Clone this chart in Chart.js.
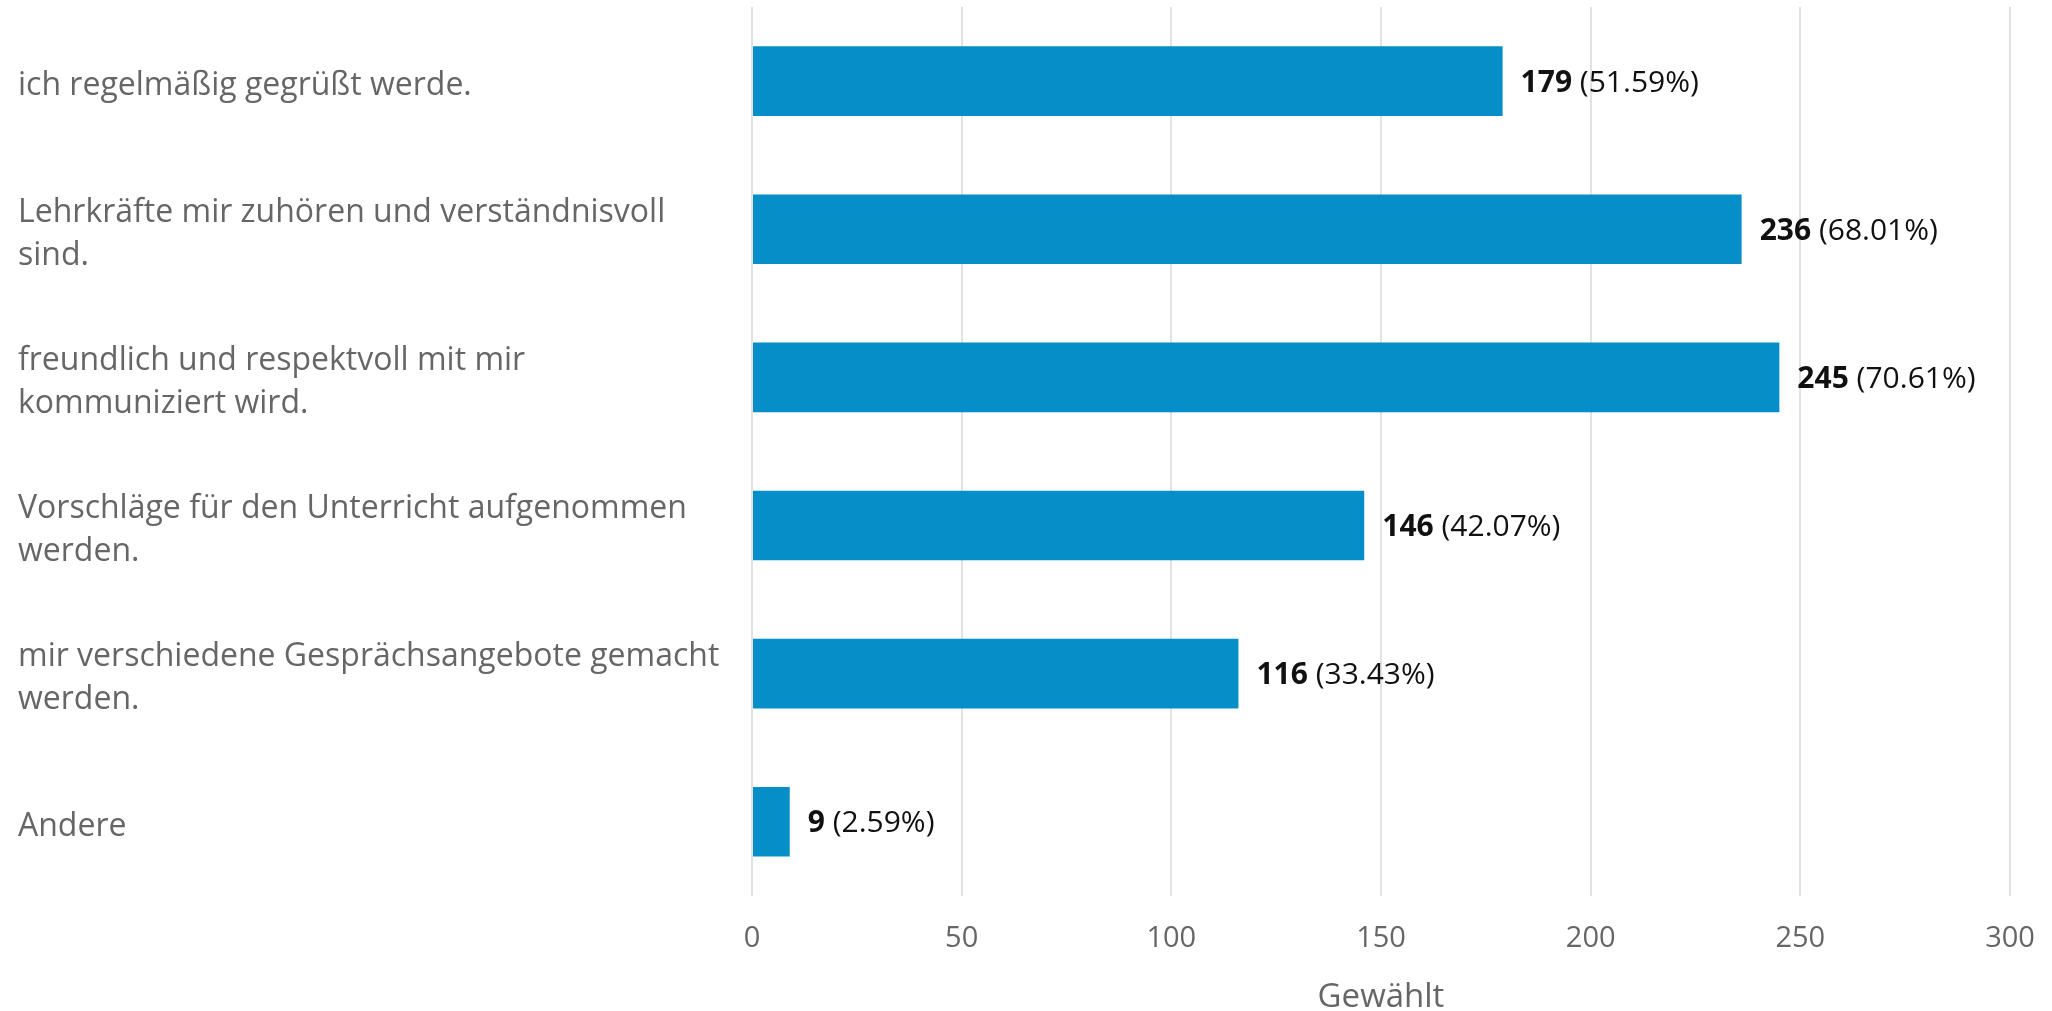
<!DOCTYPE html>
<html>
<head>
<meta charset="utf-8">
<script src="https://cdn.jsdelivr.net/npm/chart.js@4"></script>
<style>
  html, body { margin: 0; padding: 0; background: #ffffff; }
  #wrap { width: 2052px; height: 1011px; position: relative; }
</style>
</head>
<body>
<div id="wrap"><canvas id="chart"></canvas></div>
<script>
const categories = [
    'ich regelmäßig gegrüßt werde.',
    ['Lehrkräfte mir zuhören und verständnisvoll', 'sind.'],
    ['freundlich und respektvoll mit mir', 'kommuniziert wird.'],
    ['Vorschläge für den Unterricht aufgenommen', 'werden.'],
    ['mir verschiedene Gesprächsangebote gemacht', 'werden.'],
    'Andere'
];
const counts = [179, 236, 245, 146, 116, 9];
const percents = ['51.59%', '68.01%', '70.61%', '42.07%', '33.43%', '2.59%'];
const xTicks = [0, 50, 100, 150, 200, 250, 300];

const FONT = '"Open Sans", sans-serif';

// draws "179 (51.59%)" right of each bar
const valueLabels = {
    id: 'valueLabels',
    afterDatasetsDraw(chart) {
        const ctx = chart.ctx;
        const meta = chart.getDatasetMeta(0);
        ctx.save();
        ctx.textBaseline = 'middle';
        ctx.textAlign = 'left';
        ctx.fillStyle = '#111111';
        meta.data.forEach((bar, i) => {
            let x = bar.x + 18;
            const y = bar.y + 2;
            ctx.font = 'bold 30px ' + FONT;
            const num = String(counts[i]);
            ctx.fillText(num, x, y);
            x += ctx.measureText(num + ' ').width;
            ctx.font = '30px ' + FONT;
            ctx.fillText('(' + percents[i] + ')', x, y);
        });
        ctx.restore();
    }
};

new Chart(document.getElementById('chart'), {
    type: 'bar',
    data: {
        labels: categories,
        datasets: [{
            data: counts,
            backgroundColor: '#068ec8',
            borderWidth: 0,
            barPercentage: 0.94,
            categoryPercentage: 0.5
        }]
    },
    options: {
        indexAxis: 'y',
        responsive: true,
        maintainAspectRatio: false,
        animation: false,
        layout: { padding: { left: 18, top: 7, right: 42, bottom: 0 } },
        plugins: {
            legend: { display: false },
            tooltip: { enabled: false }
        },
        scales: {
            x: {
                min: 0,
                max: 300,
                afterBuildTicks(scale) {
                    scale.ticks = xTicks.map(v => ({ value: v }));
                },
                afterFit(scale) {
                    scale.paddingLeft = 0;
                    scale.paddingRight = 0;
                },
                grid: { color: '#e2e2e2', lineWidth: 2, drawTicks: false },
                border: { display: false },
                ticks: {
                    color: '#666666',
                    padding: 26,
                    font: { family: FONT, size: 29 }
                },
                title: {
                    display: true,
                    text: 'Gewählt',
                    color: '#666666',
                    padding: { top: 2, bottom: 0 },
                    font: { family: FONT, size: 33, lineHeight: 0.8 }
                }
            },
            y: {
                grid: { display: false },
                border: { display: false },
                afterFit(scale) {
                    scale.width = 734;
                    scale.paddingTop = 0;
                    scale.paddingBottom = 0;
                },
                ticks: {
                    crossAlign: 'far',
                    color: '#666666',
                    padding: 0,
                    labelOffset: 5,
                    font: { family: FONT, size: 32, lineHeight: 1.35 }
                }
            }
        }
    },
    plugins: [valueLabels]
});
</script>
</body>
</html>
